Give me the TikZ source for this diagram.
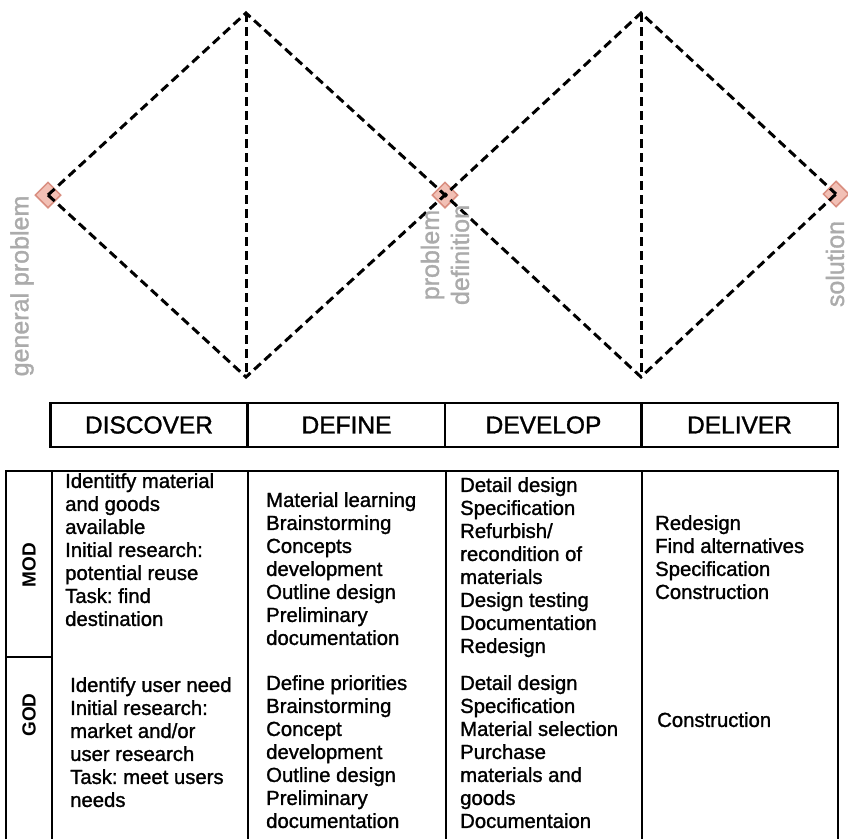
\documentclass[tikz,border=0pt]{standalone}
\usepackage{fontspec}
\setmainfont{Liberation Sans}
\newfontfamily\heavyfont[FakeBold=1.3]{Liberation Sans}
\usetikzlibrary{shapes.geometric}
\definecolor{labgrey}{HTML}{ABABAB}
\definecolor{markfill}{HTML}{F2C0B5}
\definecolor{markline}{HTML}{D98E80}
\frenchspacing
\begin{document}
\begin{tikzpicture}[x=1pt,y=-1pt,
  dline/.style={line width=3pt, dash pattern=on 9pt off 5pt, black},
  pinkmark/.style={diamond, draw=markline, fill=markfill, line width=1.5pt, minimum size=26pt, inner sep=0pt},
  lab/.style={text=labgrey, font=\heavyfont\fontsize{25}{30}\selectfont, rotate=90, inner sep=0pt, align=center},
  hdr/.style={draw, line width=2.2pt, minimum width=197pt, minimum height=44pt, font=\heavyfont\fontsize{24.5}{26}\selectfont, inner sep=0pt},
  cell/.style={anchor=north west, align=left, inner sep=0pt, font=\heavyfont\fontsize{20.3}{23}\selectfont\frenchspacing},
  rowlab/.style={rotate=90, inner sep=0pt, font=\fontsize{19}{21}\selectfont\bfseries},
  tbl/.style={line width=2.2pt}
]
\useasboundingbox (0,0) rectangle (848,839);

% markers
\node[pinkmark] (gp) at (48,195) {};
\node[pinkmark] (pd) at (445,195) {};
\node[pinkmark] (so) at (836,194) {};
\coordinate (t1) at (246,13);
\coordinate (b1) at (246,377);
\coordinate (t2) at (641,13);
\coordinate (b2) at (641,377);

% dashed double diamond
\draw[dline] (gp.center) -- (t1) -- (pd.center) -- (t2) -- (so.center);
\draw[dline] (gp.center) -- (b1) -- (pd.center) -- (b2) -- (so.center);
\draw[dline] (t1) -- (b1);
\draw[dline] (t2) -- (b2);

% grey labels
\node[lab] (lgp) at (22,286) {general problem};
\node[lab] (lpd) at (445,255) {problem\\definition};
\node[lab] (lso) at (835,264) {solution};

% header
\node[hdr] (hdisc) at (149,425) {DISCOVER};
\node[hdr] (hdef) at (346.5,425) {DEFINE};
\node[hdr] (hdev) at (543.5,425) {DEVELOP};
\node[hdr] (hdel) at (739.5,425) {DELIVER};

% lower table
\draw[tbl] (6,839) -- (6,471) -- (838,471) -- (838,839);
\draw[tbl] (52,471) -- (52,839);
\draw[tbl] (248,471) -- (248,839);
\draw[tbl] (446,471) -- (446,839);
\draw[tbl] (642,471) -- (642,839);
\draw[tbl] (6,657) -- (52,657);

\node[rowlab] (mod) at (29,565) {MOD};
\node[rowlab] (god) at (29,715) {GOD};

\node[cell] (c1m) at (65,473) {Identitfy material\\and goods\\available\\Initial research:\\potential reuse\\Task: find\\destination};
\node[cell] (c1g) at (70,677) {Identify user need\\Initial research:\\market and/or\\user research\\Task: meet users\\needs};
\node[cell] (c2m) at (266,492) {Material learning\\Brainstorming\\Concepts\\development\\Outline design\\Preliminary\\documentation};
\node[cell] (c2g) at (266,675) {Define priorities\\Brainstorming\\Concept\\development\\Outline design\\Preliminary\\documentation};
\node[cell] (c3m) at (460,477) {Detail design\\Specification\\Refurbish/\\recondition of\\materials\\Design testing\\Documentation\\Redesign};
\node[cell] (c3g) at (460,675) {Detail design\\Specification\\Material selection\\Purchase\\materials and\\goods\\Documentaion};
\node[cell] (c4m) at (655,515) {Redesign\\Find alternatives\\Specification\\Construction};
\node[cell] (c4g) at (657,712) {Construction};
\end{tikzpicture}
\end{document}
